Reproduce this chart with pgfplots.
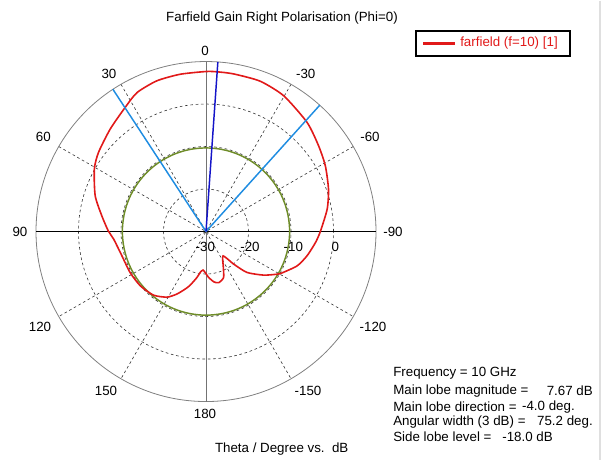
\documentclass[border=0pt]{standalone}
\usepackage{fontspec}
\setmainfont{Liberation Sans}
\usepackage{pgfplots}
\pgfplotsset{compat=1.18}
\usepackage{pgfplotstable}

\definecolor{cstred}{RGB}{225,25,25}
\definecolor{sll}{RGB}{110,140,40}
\definecolor{edge}{RGB}{30,140,225}
\definecolor{mainl}{RGB}{20,20,200}

% theta (deg, 0 = top, positive to the left) and gain (dB)
\pgfplotstableread{
t g
-180 -20.1
-176.8 -19.2
-171 -18.0
-166.1 -17.6
-159.1 -18.4
-153.9 -20.75
-145 -23.0
-139.7 -20.0
-135 -16.4
-127.1 -13.0
-121 -10.5
-119.5 -9.9
-110.7 -7.1
-103.5 -5.55
-95.7 -4.1
-90 -3.1
-79.5 -1.0
-70.9 0.5
-61.2 2.05
-52.7 3.3
-42.8 5.0
-29.8 6.8
-19.8 7.6
-9.9 7.65
-4 7.67
0 7.65
9.3 7.5
18 7.3
26.4 6.5
33.3 4.8
43.1 3.0
53.7 1.4
60.8 0.1
72.1 -2.6
81.4 -5.2
89.6 -7.0
94.7 -8.2
106 -9.4
118.4 -9.7
129.6 -9.95
140.5 -10.6
149.3 -12.05
155.1 -13.8
160.7 -15.8
163.9 -17.0
168.9 -19.0
172 -20.3
175.6 -20.9
180 -20.1
}\gain

\begin{document}
\begin{tikzpicture}
\begin{axis}[x=0.75pt, y=0.75pt, scale only axis, hide axis, clip=false,
  xmin=-206, xmax=400, ymin=-228, ymax=231,
  every node/.style={font=\fontsize{8.8}{10}\selectfont}]
\path (axis cs:-206,-228) rectangle (axis cs:400,231);
\draw[gray!25, line width=0.8pt] (axis cs:394,231) -- (axis cs:394,-228);

% grid
\pgfplotsinvokeforeach{42.5,85,127.5}{
  \draw[black!80, line width=0.45pt, dash pattern=on 2pt off 2pt] (axis cs:0,0) circle[radius=#1];}
\pgfplotsinvokeforeach{30,60,120,150}{
  \draw[black!80, line width=0.45pt, dash pattern=on 2pt off 2pt]
    (axis cs:{170*cos(#1)},{170*sin(#1)}) -- (axis cs:{-170*cos(#1)},{-170*sin(#1)});}
\draw[gray, line width=0.6pt] (axis cs:0,0) circle[radius=170];
\draw[black, line width=0.6pt] (axis cs:-170,0) -- (axis cs:170,0);
\draw[gray!90!black, line width=0.6pt] (axis cs:0,-170) -- (axis cs:0,170);

% side lobe level circle (-10.33 dB)
\draw[sll, line width=1.1pt] (axis cs:0,0) circle[radius=83.6];

\addplot[cstred, line width=1.2pt, smooth, tension=0.4, data cs=polar]
  table[x expr=\thisrow{t}+90, y expr=(\thisrow{g}+30)*4.25] {\gain};

% beam edges and main lobe direction
\addplot[edge, line width=1.1pt, data cs=polar] coordinates {(123.2,0) (123.2,170)};
\addplot[edge, line width=1.1pt, data cs=polar] coordinates {(48,0) (48,170)};
\addplot[mainl, line width=1.1pt, data cs=polar] coordinates {(86,0) (86,170)};

% angle labels
\node at (axis cs:-1,181) {0};
\node at (axis cs:-97,157.7) {30};
\node at (axis cs:99.7,157.7) {-30};
\node at (axis cs:-162.7,94.3) {60};
\node at (axis cs:164,94.3) {-60};
\node at (axis cs:-186,-0.7) {90};
\node at (axis cs:187,-0.7) {-90};
\node at (axis cs:-166,-95.7) {120};
\node at (axis cs:167,-95.7) {-120};
\node at (axis cs:-100,-159) {150};
\node at (axis cs:102,-159) {-150};
\node at (axis cs:-1,-182.3) {180};
% radial labels
\node at (axis cs:-0.7,-15.7) {-30};
\node at (axis cs:44,-15.7) {-20};
\node at (axis cs:87.3,-15.7) {-10};
\node at (axis cs:129.3,-15.7) {0};

\node at (axis cs:76,213.5) {Farfield Gain Right Polarisation (Phi=0)};
\node at (axis cs:75.7,-217.3) {Theta / Degree vs.\ \ dB};

% legend
\draw[black, line width=1.3pt] (axis cs:210,200.3) rectangle (axis cs:364,175.7);
\draw[cstred, line width=1.6pt] (axis cs:217,188) -- (axis cs:249,188);
\node[anchor=west, text=cstred, inner sep=0pt] at (axis cs:254,188) {farfield (f=10) [1]};

% summary
\node[anchor=west, inner sep=0pt] at (axis cs:187,-142) {Frequency = 10 GHz};
\node[anchor=west, inner sep=0pt] at (axis cs:187,-159.7) {Main lobe magnitude =};
\node[anchor=east, inner sep=0pt] at (axis cs:387,-159.7) {7.67 dB};
\node[anchor=west, inner sep=0pt] at (axis cs:187,-175.3) {Main lobe direction =};
\node[anchor=east, inner sep=0pt] at (axis cs:369,-175.3) {-4.0 deg.};
\node[anchor=west, inner sep=0pt] at (axis cs:187,-190.7) {Angular width (3 dB) =};
\node[anchor=east, inner sep=0pt] at (axis cs:387,-190.7) {75.2 deg.};
\node[anchor=west, inner sep=0pt] at (axis cs:187,-205.7) {Side lobe level =};
\node[anchor=east, inner sep=0pt] at (axis cs:347,-205.7) {-18.0 dB};
\end{axis}
\end{tikzpicture}
\end{document}
